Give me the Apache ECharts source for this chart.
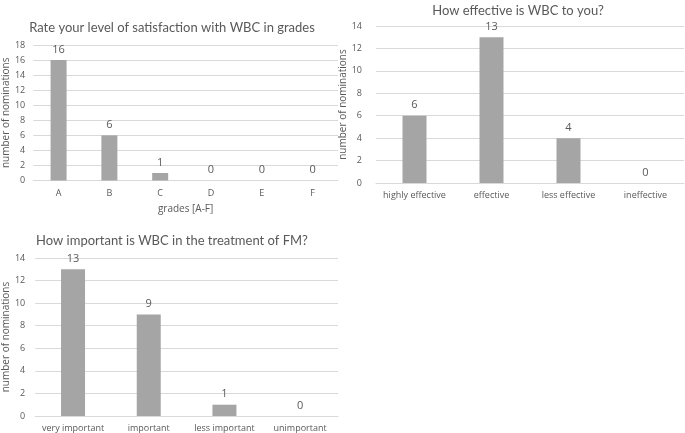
<!DOCTYPE html>
<html><head><meta charset="utf-8">
<script src="https://cdn.jsdelivr.net/npm/echarts@6/dist/echarts.min.js"></script>
<style>html,body{margin:0;padding:0;background:#fff}#c{width:685px;height:433px}</style>
</head><body><div id="c"></div>
<script>
const title1 = "Rate your level of satisfaction with WBC in grades";
const cats1 = ["A", "B", "C", "D", "E", "F"];
const vals1 = [16, 6, 1, 0, 0, 0];
const title2 = "How effective is WBC to you?";
const cats2 = ["highly effective", "effective", "less effective", "ineffective"];
const vals2 = [6, 13, 4, 0];
const title3 = "How important is WBC in the treatment of FM?";
const cats3 = ["very important", "important", "less important", "unimportant"];
const vals3 = [13, 9, 1, 0];
const yName = "number of nominations";
const xName1 = "grades [A-F]";

const FONT = "'Open Sans', 'Liberation Sans', sans-serif";
const TFONT = "Lato, 'Open Sans', sans-serif";
const TXT = '#595959';
const GRID = '#d9d9d9';
const BAR = '#a5a5a5';

function xAxis(idx, cats, name) {
  return {
    type: 'category', gridIndex: idx, data: cats,
    axisLine: {lineStyle: {color: GRID}}, axisTick: {show: false},
    axisLabel: {color: TXT, fontSize: 9, fontFamily: FONT, margin: 8, interval: 0},
    name: name || '', nameLocation: 'middle', nameGap: 24,
    nameTextStyle: {color: TXT, fontSize: 10, fontFamily: FONT}
  };
}
function yAxis(idx, max, gap, lblMargin) {
  return {
    type: 'value', gridIndex: idx, min: 0, max: max, interval: 2,
    axisLine: {show: false}, axisTick: {show: false},
    splitLine: {lineStyle: {color: GRID}},
    axisLabel: {color: TXT, fontSize: 9, fontFamily: FONT, margin: lblMargin},
    name: yName, nameLocation: 'middle', nameGap: gap, nameRotate: 90,
    nameTextStyle: {color: TXT, fontSize: 10, fontFamily: FONT}
  };
}
function series(idx, vals, bw) {
  return {
    type: 'bar', xAxisIndex: idx, yAxisIndex: idx, data: vals, barWidth: bw,
    itemStyle: {color: BAR},
    label: {show: true, position: 'top', color: TXT, fontSize: 11, fontFamily: FONT, distance: 5},
    silent: true
  };
}
const chart = echarts.init(document.getElementById('c'), null, {renderer: 'canvas'});
chart.setOption({
  animation: false,
  title: [
    {text: title1, left: 167, top: 16, textAlign: 'center', textStyle: {color: TXT, fontSize: 13, fontWeight: 'normal', fontFamily: TFONT}},
    {text: title2, left: 513, top: -1, textAlign: 'center', textStyle: {color: TXT, fontSize: 13, fontWeight: 'normal', fontFamily: TFONT}},
    {text: title3, left: 167, top: 229, textAlign: 'center', textStyle: {color: TXT, fontSize: 13, fontWeight: 'normal', fontFamily: TFONT}}
  ],
  grid: [
    {left: 30, top: 45, width: 308, height: 135.5},
    {left: 376, top: 26, width: 308, height: 157},
    {left: 30, top: 258, width: 308, height: 159}
  ],
  xAxis: [xAxis(0, cats1, xName1), xAxis(1, cats2), xAxis(2, cats3)],
  yAxis: [yAxis(0, 18, 22, 8), yAxis(1, 14, 20, 14), yAxis(2, 14, 22, 10)],
  series: [series(0, vals1, 16), series(1, vals2, 24), series(2, vals3, 24)]
});
</script></body></html>
